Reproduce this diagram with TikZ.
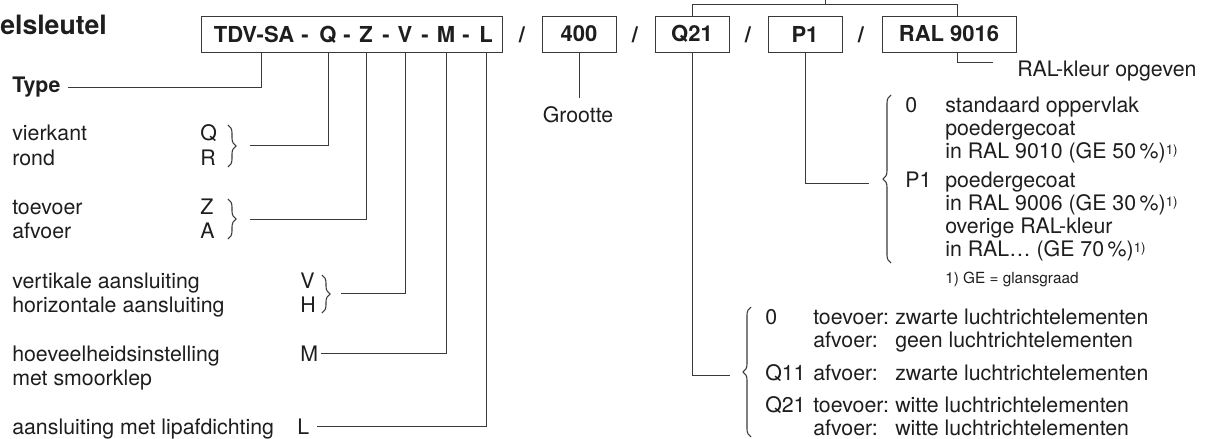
\documentclass[tikz,border=0pt]{standalone}
\usepackage{fontspec}
\setmainfont{TeX Gyre Heros}
\usepackage{xcolor}
\definecolor{ink}{HTML}{1E1E1E}
\definecolor{wire}{HTML}{3A3A3A}
\usetikzlibrary{positioning,calc,decorations.pathreplacing}
\newcommand\fmain{\fontsize{16}{19}\selectfont}
\newcommand\fcode{\fontsize{16.5}{19}\selectfont\bfseries}
\newcommand\fnote{\fontsize{11.5}{13}\selectfont}
\newcommand\fnmark{{\fontsize{10}{10}\selectfont\raisebox{0.55ex}{1)}}}
\tikzset{
  wire/.style={draw=wire,line width=0.6pt},
  codebox/.style={draw=wire,line width=0.6pt,minimum height=27pt,inner sep=0pt,font=\fcode,text=ink},
  codetxt/.style={anchor=base,inner sep=0pt,font=\fcode,text=ink},
  lbl/.style={anchor=base west,inner sep=0pt,font=\fmain,text=ink},
  brace/.style={draw=wire,line width=0.8pt,decorate,decoration={brace,amplitude=6pt}},
}
\begin{document}
\begin{tikzpicture}[x=0.75pt,y=-0.75pt]
\useasboundingbox (0,0) rectangle (1208,439);
% title
\node[lbl,font=\fontsize{20}{22}\selectfont\bfseries] (title) at (0,35) {elsleutel};
% code boxes
\node[codebox,minimum width=225.75pt] (main) at (351.5,34) {};
\foreach \txt/\xx/\nm in {TDV-SA/254/kT,-/305/d1,Q/328/kQ,-/347/d2,Z/366/kZ,-/386/d3,V/405/kV,-/425/d4,M/446/kM,-/466/d5,L/486/kL}
  \node[codetxt] (\nm) at (\xx,42.5) {\txt};
\node[codebox,minimum width=55.5pt] (size) at (579,34) {400};
\node[codebox,minimum width=55.5pt] (dir) at (692,34) {Q21};
\node[codebox,minimum width=55.5pt] (surf) at (805,34) {P1};
\node[codebox,minimum width=100.5pt] (ral) at (949,34) {RAL 9016};
\foreach \xx/\nm in {522/s1,635/s2,748/s3,861/s4}
  \node[codetxt] (\nm) at (\xx,42.5) {/};
\coordinate (kTy) at (261,0);
\coordinate (kR) at (957,0);
% top link
\coordinate (top1) at (692,4);
\coordinate (top2) at (957,4);
\coordinate (topT) at (825,0);
\draw[wire] (dir.north) -- (top1) -- (top2) -- (ral.north -| kR);
\draw[wire] (top1 -| topT) -- (topT);
% left side
\node[lbl,font=\fmain\bfseries] (ltype) at (12,92) {Type};
\coordinate (tipType) at (68,87);
\draw[wire] (main.south -| kTy) |- (tipType);

\node[lbl] (lvk) at (12,140) {vierkant};
\node[lbl] (lrd) at (12,165) {rond};
\node[lbl] (lQ) at (200,140) {Q};
\node[lbl] (lR) at (200,165) {R};
\draw[brace] (228,125) -- (228,167);
\coordinate (tipQ) at (250,145);
\draw[wire] (main.south -| kQ) |- (tipQ);

\node[lbl] (ltv) at (12,214) {toevoer};
\node[lbl] (lav) at (12,238) {afvoer};
\node[lbl] (lZ) at (200,214) {Z};
\node[lbl] (lA) at (200,238) {A};
\draw[brace] (228,199) -- (228,239);
\coordinate (tipZ) at (250,219);
\draw[wire] (main.south -| kZ) |- (tipZ);

\node[lbl] (lvert) at (12,288) {vertikale aansluiting};
\node[lbl] (lhor) at (12,312) {horizontale aansluiting};
\node[lbl] (lV) at (300,288) {V};
\node[lbl] (lH) at (300,312) {H};
\draw[brace] (322,275) -- (322,313);
\coordinate (tipV) at (341,293);
\draw[wire] (main.south -| kV) |- (tipV);

\node[lbl] (lhoev) at (12,361) {hoeveelheidsinstelling};
\node[lbl] (lsmoor) at (12,385) {met smoorklep};
\node[lbl] (lM) at (300,361) {M};
\draw[wire] (main.south -| kM) |- ([xshift=2pt]lM.east);

\node[lbl] (llip) at (12,434) {aansluiting met lipafdichting};
\node[lbl] (lL) at (297,434) {L};
\draw[wire] (main.south -| kL) |- ([xshift=6pt]lL.east);
% size
\node[lbl,anchor=base] (lsize) at (578,122) {Grootte};
\coordinate (tipS) at (579,98);
\draw[wire] (size.south) -- (tipS);
% RAL
\node[lbl] (lral) at (1017,76) {RAL-kleur opgeven};
\coordinate (tipR) at (993,62);
\draw[wire] (ral.south -| kR) |- (tipR);
% surface options
\node[lbl] (p0) at (905,112) {0};
\node[lbl] (p0a) at (945,112) {standaard oppervlak};
\node[lbl] (p0b) at (945,135) {poedergecoat};
\node[lbl] (p0c) at (945,158) {in RAL 9010 (GE 50\,\%)\fnmark};
\node[lbl] (p1) at (905,187) {P1};
\node[lbl] (p1a) at (945,187) {poedergecoat};
\node[lbl] (p1b) at (945,210) {in RAL 9006 (GE 30\,\%)\fnmark};
\node[lbl] (p1c) at (945,233) {overige RAL-kleur};
\node[lbl] (p1d) at (945,256) {in RAL\ldots\ (GE 70\,\%)\fnmark};
\node[lbl,font=\fnote] (pnote) at (945,283) {1) GE = glansgraad};
\draw[brace] (891,263) -- (891,95);
\coordinate (tipP) at (869,183);
\draw[wire] (surf.south) |- (tipP);
% direction options
\node[lbl] (q0) at (765,324) {0};
\node[lbl] (q0a) at (813,324) {toevoer:};
\node[lbl] (q0b) at (895,324) {zwarte luchtrichtelementen};
\node[lbl] (q0c) at (813,347) {afvoer:};
\node[lbl] (q0d) at (895,347) {geen luchtrichtelementen};
\node[lbl] (q11) at (765,380) {Q11};
\node[lbl] (q11a) at (813,380) {afvoer:};
\node[lbl] (q11b) at (895,380) {zwarte luchtrichtelementen};
\node[lbl] (q21) at (765,412) {Q21};
\node[lbl] (q21a) at (813,412) {toevoer:};
\node[lbl] (q21b) at (895,412) {witte luchtrichtelementen};
\node[lbl] (q21c) at (813,435) {afvoer:};
\node[lbl] (q21d) at (895,435) {witte luchtrichtelementen};
\draw[brace] (751,437) -- (751,307);
\coordinate (tipD) at (730,375);
\draw[wire] (dir.south) |- (tipD);
\end{tikzpicture}
\end{document}
